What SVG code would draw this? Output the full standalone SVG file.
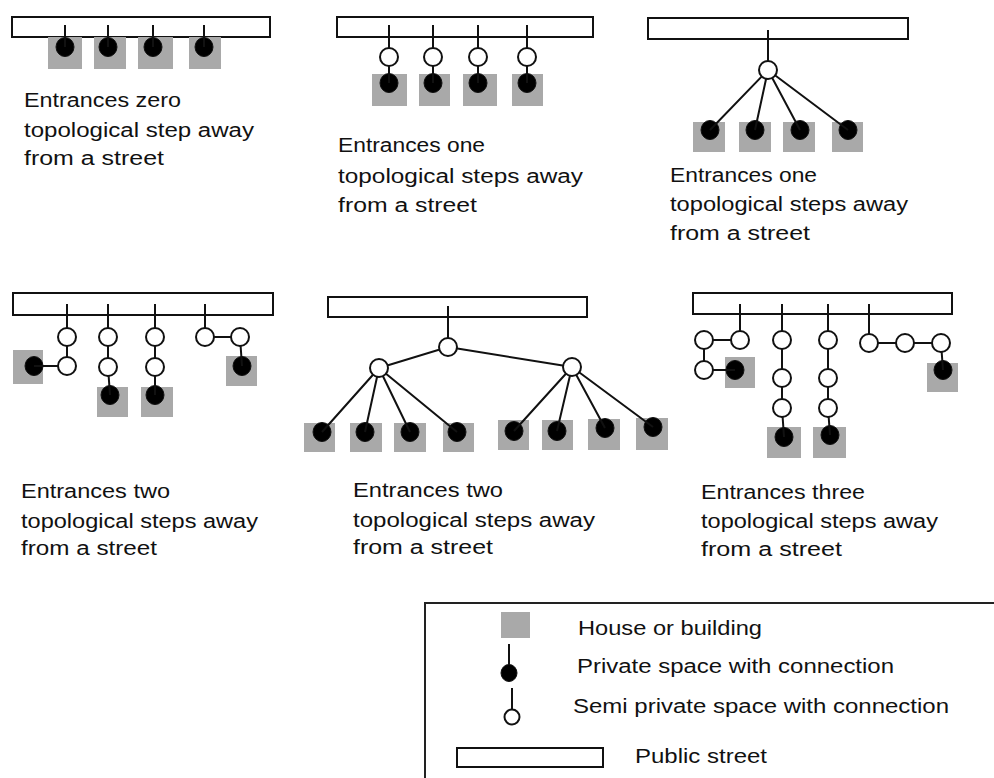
<svg xmlns="http://www.w3.org/2000/svg" width="994" height="778" viewBox="0 0 994 778">
<style>
.st{fill:#fff;stroke:#111;stroke-width:2}
.h{fill:#a9a9a9}
.pd{fill:#000;stroke:#111;stroke-width:1}
.sc{fill:#fff;stroke:#111;stroke-width:2}
.ln{stroke:#111;stroke-width:2;fill:none}
.lg{fill:none;stroke:#222;stroke-width:2}
text{font-family:"Liberation Sans",Arial,sans-serif;font-size:20px;fill:#111}
</style>
<rect width="994" height="778" fill="#fff"/>

<!-- Streets -->
<g id="streets">
<rect id="street1" class="st" x="12" y="17" width="258" height="20"/>
<rect id="street2" class="st" x="337" y="17" width="256" height="20"/>
<rect id="street3" class="st" x="648" y="18" width="260" height="21"/>
<rect id="street4" class="st" x="13" y="293" width="260" height="22"/>
<rect id="street5" class="st" x="328" y="297" width="259" height="20"/>
<rect id="street6" class="st" x="693" y="293" width="259" height="21"/>
</g>

<!-- Houses (building + private space) -->
<g id="houses">
<g id="p1h1"><rect class="h" x="48" y="37" width="34" height="32"/><ellipse class="pd" cx="65" cy="47" rx="9" ry="9.5"/></g>
<g id="p1h2"><rect class="h" x="94" y="37" width="32" height="32"/><ellipse class="pd" cx="108" cy="47" rx="9" ry="9.5"/></g>
<g id="p1h3"><rect class="h" x="138" y="37" width="35" height="32"/><ellipse class="pd" cx="153" cy="47" rx="9" ry="9.5"/></g>
<g id="p1h4"><rect class="h" x="189" y="37" width="32" height="32"/><ellipse class="pd" cx="204" cy="47" rx="9" ry="9.5"/></g>

<g id="p2h1"><rect class="h" x="372" y="74" width="35" height="32"/><ellipse class="pd" cx="389" cy="83" rx="9" ry="9.5"/></g>
<g id="p2h2"><rect class="h" x="419" y="74" width="31" height="32"/><ellipse class="pd" cx="433" cy="83" rx="9" ry="9.5"/></g>
<g id="p2h3"><rect class="h" x="463" y="74" width="34" height="32"/><ellipse class="pd" cx="478" cy="83" rx="9" ry="9.5"/></g>
<g id="p2h4"><rect class="h" x="512" y="74" width="31" height="32"/><ellipse class="pd" cx="527" cy="83" rx="9" ry="9.5"/></g>

<g id="p3h1"><rect class="h" x="693" y="122" width="32" height="30"/><ellipse class="pd" cx="710" cy="130" rx="9" ry="9.5"/></g>
<g id="p3h2"><rect class="h" x="739" y="122" width="32" height="30"/><ellipse class="pd" cx="755" cy="130" rx="9" ry="9.5"/></g>
<g id="p3h3"><rect class="h" x="783" y="122" width="32" height="30"/><ellipse class="pd" cx="800" cy="130" rx="9" ry="9.5"/></g>
<g id="p3h4"><rect class="h" x="832" y="122" width="31" height="30"/><ellipse class="pd" cx="848" cy="130" rx="9" ry="9.5"/></g>

<g id="p4h1"><rect class="h" x="13" y="350" width="30" height="34"/><ellipse class="pd" cx="34" cy="366" rx="9" ry="9.5"/></g>
<g id="p4h2"><rect class="h" x="97" y="387" width="31" height="30"/><ellipse class="pd" cx="110" cy="395" rx="9" ry="9.5"/></g>
<g id="p4h3"><rect class="h" x="141" y="387" width="32" height="30"/><ellipse class="pd" cx="155" cy="395" rx="9" ry="9.5"/></g>
<g id="p4h4"><rect class="h" x="226" y="356" width="31" height="30"/><ellipse class="pd" cx="242" cy="366" rx="9" ry="9.5"/></g>

<g id="p5h1"><rect class="h" x="304" y="423" width="31" height="29"/><ellipse class="pd" cx="322" cy="432" rx="9" ry="9.5"/></g>
<g id="p5h2"><rect class="h" x="350" y="423" width="32" height="29"/><ellipse class="pd" cx="365" cy="432" rx="9" ry="9.5"/></g>
<g id="p5h3"><rect class="h" x="394" y="423" width="32" height="29"/><ellipse class="pd" cx="410" cy="432" rx="9" ry="9.5"/></g>
<g id="p5h4"><rect class="h" x="443" y="423" width="31" height="29"/><ellipse class="pd" cx="457" cy="432" rx="9" ry="9.5"/></g>
<g id="p5h5"><rect class="h" x="498" y="420" width="31" height="30"/><ellipse class="pd" cx="514" cy="431" rx="9" ry="9.5"/></g>
<g id="p5h6"><rect class="h" x="542" y="420" width="31" height="30"/><ellipse class="pd" cx="557" cy="431" rx="9" ry="9.5"/></g>
<g id="p5h7"><rect class="h" x="588" y="419" width="32" height="31"/><ellipse class="pd" cx="605" cy="428" rx="9" ry="9.5"/></g>
<g id="p5h8"><rect class="h" x="636" y="418" width="32" height="32"/><ellipse class="pd" cx="653" cy="427" rx="9" ry="9.5"/></g>

<g id="p6h1"><rect class="h" x="725" y="357" width="30" height="31"/><ellipse class="pd" cx="735" cy="370" rx="9" ry="9.5"/></g>
<g id="p6h2"><rect class="h" x="767" y="427" width="34" height="31"/><ellipse class="pd" cx="784" cy="437" rx="9" ry="9.5"/></g>
<g id="p6h3"><rect class="h" x="813" y="427" width="33" height="31"/><ellipse class="pd" cx="830" cy="435" rx="9" ry="9.5"/></g>
<g id="p6h4"><rect class="h" x="927" y="363" width="31" height="29"/><ellipse class="pd" cx="943" cy="370" rx="9" ry="9.5"/></g>
</g>

<!-- Connectors -->
<g id="connectors" class="ln">
<path d="M65 25V47M108 25V47M153 25V47M204 25V47"/>
<path d="M389 25V83M433 25V83M478 25V83M527 25V83"/>
<path d="M768 30V70M768 70L710 130M768 70L755 130M768 70L800 130M768 70L848 130"/>
<path d="M67 304V366H34M108 304V337L108 367L110 395M155 304V395M205 304V337H240L242 366"/>
<path d="M448 306V347L379 368M448 347L572 367M379 368L322 432M379 368L365 432M379 368L410 432M379 368L457 432M572 367L514 431M572 367L557 431M572 367L605 428M572 367L653 427"/>
<path d="M740 304V340H704V370H735M782 304V378L782 408L784 437M828 304V408L830 435M869 304V343H941L943 370"/>
</g>

<!-- Semi-private spaces -->
<g id="semi">
<g id="p2s1"><circle class="sc" cx="389" cy="57" r="9"/></g>
<g id="p2s2"><circle class="sc" cx="433" cy="57" r="9"/></g>
<g id="p2s3"><circle class="sc" cx="478" cy="57" r="9"/></g>
<g id="p2s4"><circle class="sc" cx="527" cy="57" r="9"/></g>
<g id="p3s1"><circle class="sc" cx="768" cy="70" r="9"/></g>
<g id="p4s1"><circle class="sc" cx="67" cy="337" r="9"/></g>
<g id="p4s2"><circle class="sc" cx="67" cy="366" r="9"/></g>
<g id="p4s3"><circle class="sc" cx="108" cy="337" r="9"/></g>
<g id="p4s4"><circle class="sc" cx="108" cy="367" r="9"/></g>
<g id="p4s5"><circle class="sc" cx="155" cy="337" r="9"/></g>
<g id="p4s6"><circle class="sc" cx="155" cy="367" r="9"/></g>
<g id="p4s7"><circle class="sc" cx="205" cy="337" r="9"/></g>
<g id="p4s8"><circle class="sc" cx="240" cy="337" r="9"/></g>
<g id="p5s1"><circle class="sc" cx="448" cy="347" r="9"/></g>
<g id="p5s2"><circle class="sc" cx="379" cy="368" r="9"/></g>
<g id="p5s3"><circle class="sc" cx="572" cy="367" r="9"/></g>
<g id="p6s1"><circle class="sc" cx="740" cy="340" r="9"/></g>
<g id="p6s2"><circle class="sc" cx="704" cy="340" r="9"/></g>
<g id="p6s3"><circle class="sc" cx="704" cy="370" r="9"/></g>
<g id="p6s4"><circle class="sc" cx="782" cy="340" r="9"/></g>
<g id="p6s5"><circle class="sc" cx="782" cy="378" r="9"/></g>
<g id="p6s6"><circle class="sc" cx="782" cy="408" r="9"/></g>
<g id="p6s7"><circle class="sc" cx="828" cy="340" r="9"/></g>
<g id="p6s8"><circle class="sc" cx="828" cy="378" r="9"/></g>
<g id="p6s9"><circle class="sc" cx="828" cy="408" r="9"/></g>
<g id="p6s10"><circle class="sc" cx="869" cy="343" r="9"/></g>
<g id="p6s11"><circle class="sc" cx="905" cy="343" r="9"/></g>
<g id="p6s12"><circle class="sc" cx="941" cy="343" r="9"/></g>
</g>

<!-- Captions -->
<g id="captions">
<text x="24" y="107" textLength="157" lengthAdjust="spacingAndGlyphs">Entrances zero</text>
<text x="24" y="137" textLength="230" lengthAdjust="spacingAndGlyphs">topological step away</text>
<text x="24" y="165" textLength="140" lengthAdjust="spacingAndGlyphs">from a street</text>

<text x="338" y="152" textLength="147" lengthAdjust="spacingAndGlyphs">Entrances one</text>
<text x="338" y="183" textLength="245" lengthAdjust="spacingAndGlyphs">topological steps away</text>
<text x="338" y="212" textLength="139" lengthAdjust="spacingAndGlyphs">from a street</text>

<text x="670" y="182" textLength="147" lengthAdjust="spacingAndGlyphs">Entrances one</text>
<text x="670" y="211" textLength="238" lengthAdjust="spacingAndGlyphs">topological steps away</text>
<text x="670" y="240" textLength="140" lengthAdjust="spacingAndGlyphs">from a street</text>

<text x="21" y="498" textLength="149" lengthAdjust="spacingAndGlyphs">Entrances two</text>
<text x="21" y="528" textLength="237" lengthAdjust="spacingAndGlyphs">topological steps away</text>
<text x="21" y="555" textLength="136" lengthAdjust="spacingAndGlyphs">from a street</text>

<text x="353" y="497" textLength="150" lengthAdjust="spacingAndGlyphs">Entrances two</text>
<text x="353" y="527" textLength="242" lengthAdjust="spacingAndGlyphs">topological steps away</text>
<text x="353" y="554" textLength="140" lengthAdjust="spacingAndGlyphs">from a street</text>

<text x="701" y="499" textLength="164" lengthAdjust="spacingAndGlyphs">Entrances three</text>
<text x="701" y="528" textLength="237" lengthAdjust="spacingAndGlyphs">topological steps away</text>
<text x="701" y="556" textLength="141" lengthAdjust="spacingAndGlyphs">from a street</text>
</g>

<!-- Legend -->
<g id="legend">
<rect class="lg" x="425" y="603" width="600" height="200"/>
<g id="leg-house"><rect class="h" x="501" y="612" width="29" height="26"/>
<text x="578" y="635" textLength="184" lengthAdjust="spacingAndGlyphs">House or building</text></g>
<g id="leg-private"><path class="ln" d="M509 644V673"/><ellipse class="pd" cx="509" cy="673" rx="8" ry="8.5"/>
<text x="577" y="673" textLength="317" lengthAdjust="spacingAndGlyphs">Private space with connection</text></g>
<g id="leg-semi"><path class="ln" d="M512 688V710"/><circle class="sc" cx="512" cy="717" r="7.5"/>
<text x="573" y="713" textLength="376" lengthAdjust="spacingAndGlyphs">Semi private space with connection</text></g>
<g id="leg-street"><rect class="st" x="457" y="748" width="146" height="19"/>
<text x="635" y="763" textLength="132" lengthAdjust="spacingAndGlyphs">Public street</text></g>
</g>
</svg>
